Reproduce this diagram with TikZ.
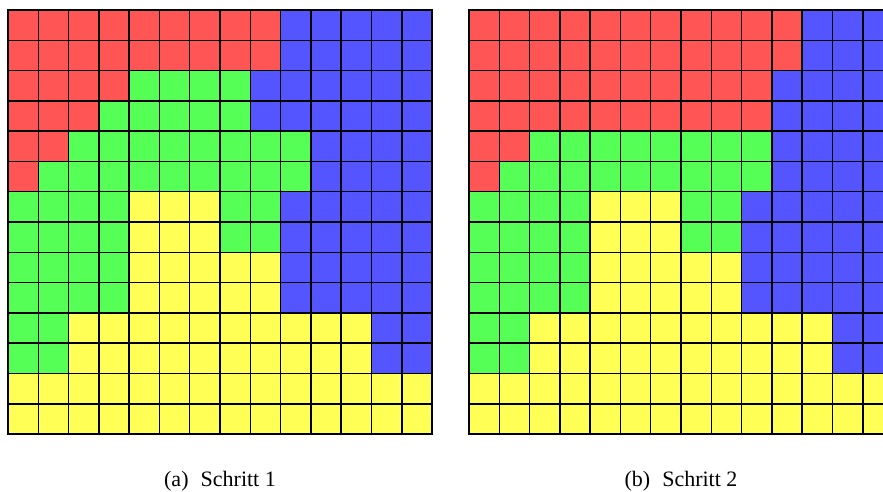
\documentclass[tikz,border=0pt]{standalone}
\usepackage{fontspec}
\setmainfont{Liberation Serif}
\definecolor{cR}{HTML}{FF5555}
\definecolor{cG}{HTML}{55FF55}
\definecolor{cB}{HTML}{5555FF}
\definecolor{cY}{HTML}{FFFF55}
\tikzset{
  cell/.style={draw=black, line width=1.1pt},
  captext/.style={font=\fontsize{16.5}{20}\selectfont, inner sep=0pt, anchor=base}
}
\begin{document}
\begin{tikzpicture}[x=0.75pt,y=-0.75pt]
\useasboundingbox (0,0) rectangle (883,492);
\clip (0,0) rectangle (883,492);
\def\cs{30.29}
% grid (a)
\foreach \row [count=\r from 0] in {
 {R,R,R,R,R,R,R,R,R,B,B,B,B,B},
 {R,R,R,R,R,R,R,R,R,B,B,B,B,B},
 {R,R,R,R,G,G,G,G,B,B,B,B,B,B},
 {R,R,R,G,G,G,G,G,B,B,B,B,B,B},
 {R,R,G,G,G,G,G,G,G,G,B,B,B,B},
 {R,G,G,G,G,G,G,G,G,G,B,B,B,B},
 {G,G,G,G,Y,Y,Y,G,G,B,B,B,B,B},
 {G,G,G,G,Y,Y,Y,G,G,B,B,B,B,B},
 {G,G,G,G,Y,Y,Y,Y,Y,B,B,B,B,B},
 {G,G,G,G,Y,Y,Y,Y,Y,B,B,B,B,B},
 {G,G,Y,Y,Y,Y,Y,Y,Y,Y,Y,Y,B,B},
 {G,G,Y,Y,Y,Y,Y,Y,Y,Y,Y,Y,B,B},
 {Y,Y,Y,Y,Y,Y,Y,Y,Y,Y,Y,Y,Y,Y},
 {Y,Y,Y,Y,Y,Y,Y,Y,Y,Y,Y,Y,Y,Y}}{
  \foreach \c [count=\k from 0] in \row {
    \draw[cell, fill=c\c] ({8+\k*\cs},{10+\r*\cs}) rectangle ++(\cs,\cs);
  }
}
% grid (b)
\foreach \row [count=\r from 0] in {
 {R,R,R,R,R,R,R,R,R,R,R,B,B,B},
 {R,R,R,R,R,R,R,R,R,R,R,B,B,B},
 {R,R,R,R,R,R,R,R,R,R,B,B,B,B},
 {R,R,R,R,R,R,R,R,R,R,B,B,B,B},
 {R,R,G,G,G,G,G,G,G,G,B,B,B,B},
 {R,G,G,G,G,G,G,G,G,G,B,B,B,B},
 {G,G,G,G,Y,Y,Y,G,G,B,B,B,B,B},
 {G,G,G,G,Y,Y,Y,G,G,B,B,B,B,B},
 {G,G,G,G,Y,Y,Y,Y,Y,B,B,B,B,B},
 {G,G,G,G,Y,Y,Y,Y,Y,B,B,B,B,B},
 {G,G,Y,Y,Y,Y,Y,Y,Y,Y,Y,Y,B,B},
 {G,G,Y,Y,Y,Y,Y,Y,Y,Y,Y,Y,B,B},
 {Y,Y,Y,Y,Y,Y,Y,Y,Y,Y,Y,Y,Y,Y},
 {Y,Y,Y,Y,Y,Y,Y,Y,Y,Y,Y,Y,Y,Y}}{
  \foreach \c [count=\k from 0] in \row {
    \draw[cell, fill=c\c] ({469+\k*\cs},{10+\r*\cs}) rectangle ++(\cs,\cs);
  }
}
\node[captext] (capa) at (220,486) {(a)\hspace{0.55em}Schritt 1};
\node[captext] (capb) at (681,486) {(b)\hspace{0.55em}Schritt 2};
\end{tikzpicture}
\end{document}
